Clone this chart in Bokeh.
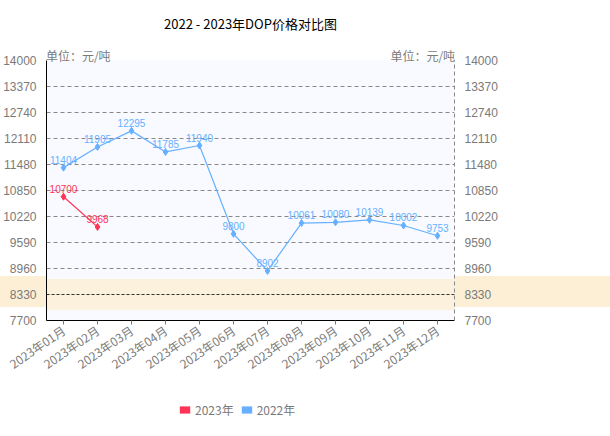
from bokeh.plotting import figure
from bokeh.layouts import column
from bokeh.models import (ColumnDataSource, Range1d, LinearAxis, FixedTicker,
                          BoxAnnotation, Span, Legend, LegendItem, InlineStyleSheet)
from bokeh.core.properties import value
from bokeh.embed import file_html
from bokeh.resources import INLINE

months = ["2023年01月", "2023年02月", "2023年03月", "2023年04月", "2023年05月", "2023年06月",
          "2023年07月", "2023年08月", "2023年09月", "2023年10月", "2023年11月", "2023年12月"]
s2022 = [11404, 11905, 12295, 11785, 11940, 9800, 8902, 10061, 10080, 10139, 10002, 9753]
s2023 = [10700, 9968]
y_ticks = [7700, 8330, 8960, 9590, 10220, 10850, 11480, 12110, 12740, 13370, 14000]
title_text = "2022 - 2023年DOP价格对比图"
unit_text = "单位：元/吨"
series_names = ["2023年", "2022年"]
highlight_value = 8330
highlight_half = 375

C22 = "#66B0FF"
C23 = "#FF3355"
GRAY = "#7a7a7a"
BAND = "#FCEFD6"
CJK = "Noto Sans CJK SC"

n = len(months)
xpos = [i + 0.5 for i in range(n)]   # category centres on a 0..n scale

FRAME_W = 411
p = figure(width=610, height=390, x_range=Range1d(0, n),
           y_range=Range1d(y_ticks[0], y_ticks[-1]), output_backend="svg",
           toolbar_location=None, title=title_text,
           min_border_left=43, min_border_right=156, min_border_top=60, min_border_bottom=70)

p.title.align = "center"
p.title.text_font = CJK
p.title.text_font_size = "13px"
p.title.text_font_style = "normal"
p.title.text_color = "#000000"
p.title.standoff = 22

p.background_fill_color = "#F8FAFF"
p.border_fill_color = None
p.outline_line_color = None
# band outside the frame (page background behind the transparent border)
p.stylesheets = [InlineStyleSheet(css=":host { background: linear-gradient(to bottom, #ffffff 0px, #ffffff 276px, "
                                      + BAND + " 276px, " + BAND + " 307px, #ffffff 307px, #ffffff 100%); }")]

p.xgrid.grid_line_color = None
p.ygrid.ticker = FixedTicker(ticks=y_ticks)
p.ygrid.grid_line_color = "#888888"
p.ygrid.grid_line_dash = "4 3"
p.ygrid.grid_line_width = 1

# bottom axis (configured before any other x axis is added)
xa = p.below[0]
xa.ticker = FixedTicker(ticks=xpos)
xa.major_label_overrides = {x: m for x, m in zip(xpos, months)}
xa.axis_line_color = "#000000"
xa.major_tick_line_color = GRAY
xa.minor_tick_line_color = None
xa.major_tick_out = 4
xa.major_tick_in = 0
xa.major_label_orientation = 0.6
xa.major_label_text_font = CJK
xa.major_label_text_font_size = "12px"
xa.major_label_text_color = GRAY
xa.major_label_standoff = 4

# left axis
ya = p.left[0]
ya.ticker = FixedTicker(ticks=y_ticks)
ya.axis_line_color = "#000000"
ya.major_tick_line_color = None
ya.minor_tick_line_color = None
ya.major_label_text_font = "Liberation Sans"
ya.major_label_text_font_size = "12px"
ya.major_label_text_color = GRAY
ya.major_label_standoff = 4

# right axis
ra = LinearAxis(ticker=FixedTicker(ticks=y_ticks))
ra.axis_line_color = "#888888"
ra.axis_line_dash = "4 3"
ra.major_tick_line_color = None
ra.minor_tick_line_color = None
ra.major_label_text_font = "Liberation Sans"
ra.major_label_text_font_size = "12px"
ra.major_label_text_color = GRAY
ra.major_label_standoff = 4
p.add_layout(ra, "right")

# unit captions on an axis above the frame
u = 32 / FRAME_W * n
ua = LinearAxis(ticker=FixedTicker(ticks=[u, n - u]),
                major_label_overrides={u: unit_text, n - u: unit_text})
ua.axis_line_color = None
ua.major_tick_line_color = None
ua.minor_tick_line_color = None
ua.major_label_text_font = CJK
ua.major_label_text_font_size = "12px"
ua.major_label_text_color = GRAY
ua.major_label_standoff = -9
p.add_layout(ua, "above")

# band inside the frame
p.add_layout(BoxAnnotation(top=highlight_value + highlight_half, bottom=highlight_value - highlight_half,
                           fill_color=BAND, fill_alpha=0.85, line_color=None, level="underlay"))
p.add_layout(Span(location=highlight_value, dimension="width", line_color="#333333",
                  line_dash="3 2", line_width=1))

src22 = ColumnDataSource(dict(x=xpos, y=s2022, t=[str(v) for v in s2022]))
src23 = ColumnDataSource(dict(x=xpos[:len(s2023)], y=s2023, t=[str(v) for v in s2023]))

p.line("x", "y", source=src22, line_color=C22, line_width=1.2)
p.scatter("x", "y", source=src22, marker="diamond", size=7, color=C22)
p.text("x", "y", text="t", source=src22, text_color=C22, text_font=value("Liberation Sans"),
       text_font_size="10px", text_align="center", text_baseline="bottom", y_offset=-4)

p.line("x", "y", source=src23, line_color=C23, line_width=1.2)
p.scatter("x", "y", source=src23, marker="diamond", size=7, color=C23)
p.text("x", "y", text="t", source=src23, text_color=C23, text_font=value("Liberation Sans"),
       text_font_size="10px", text_align="center", text_baseline="bottom", y_offset=-4)

# legend strip below the chart (swatch glyphs have zero size, only their colours are used)
lf = figure(width=610, height=46, x_range=Range1d(0, 1), y_range=Range1d(0, 1),
            output_backend="svg", toolbar_location=None,
            x_axis_location=None, y_axis_location=None,
            min_border_left=0, min_border_right=0, min_border_top=0, min_border_bottom=0)
lf.outline_line_color = None
lf.background_fill_color = "#FFFFFF"
lf.border_fill_color = "#FFFFFF"
lf.xgrid.grid_line_color = None
lf.ygrid.grid_line_color = None
q23 = lf.quad(left=[0], right=[0], top=[0], bottom=[0], fill_color=C23, line_color=None)
q22 = lf.quad(left=[0], right=[0], top=[0], bottom=[0], fill_color=C22, line_color=None)
leg = Legend(items=[LegendItem(label=series_names[0], renderers=[q23]),
                    LegendItem(label=series_names[1], renderers=[q22])],
             orientation="horizontal", location=(132, 18))
leg.glyph_width = 13
leg.glyph_height = 9
leg.label_height = 12
leg.label_text_font = CJK
leg.label_text_font_size = "12px"
leg.label_text_color = GRAY
leg.label_standoff = 4
leg.spacing = 6
leg.padding = 0
leg.margin = 0
leg.border_line_color = None
leg.background_fill_alpha = 0
lf.add_layout(leg, "center")

open("out.html", "w").write(file_html(column(p, lf, spacing=0), INLINE))
